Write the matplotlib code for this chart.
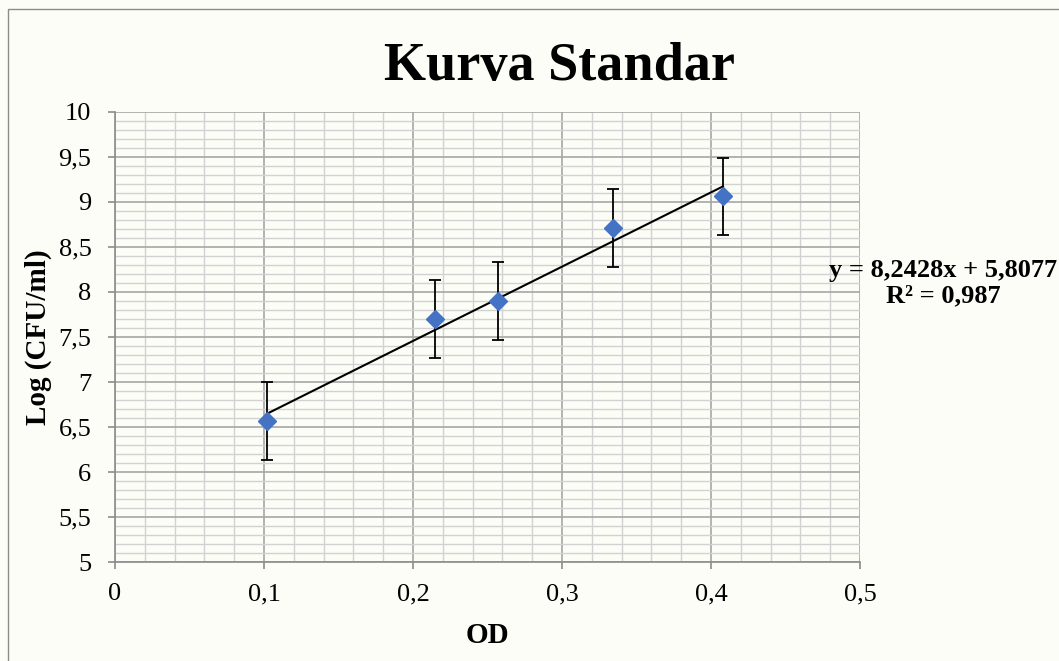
import numpy as np
import matplotlib
matplotlib.use("Agg")
import matplotlib.pyplot as plt
from matplotlib.patches import Rectangle
from matplotlib.ticker import MultipleLocator, FuncFormatter

# Data
od = [0.102, 0.215, 0.257, 0.334, 0.408]
log_cfu = [6.57, 7.70, 7.90, 8.71, 9.06]
err = [0.43, 0.43, 0.43, 0.43, 0.43]

# Linear trendline shown on the chart
slope = 8.2428
intercept = 5.8077
r2 = 0.987

plt.rcParams['font.family'] = ['Liberation Serif', 'DejaVu Serif']

BG = '#fdfdf7'

fig = plt.figure(figsize=(10.59, 6.61), dpi=100, facecolor=BG)
ax = fig.add_axes([115 / 1059, 1 - 562.3 / 661, 745 / 1059, 450.6 / 661])
ax.set_facecolor(BG)

# chart area border (Excel style)
fig.patches.append(Rectangle((8 / 1059, -0.1), 1.2, 1 - 9 / 661 + 0.1,
                             transform=fig.transFigure, fill=False,
                             edgecolor='#8c8c8c', lw=1.0))

ax.set_xlim(0, 0.5)
ax.set_ylim(5, 10)
ax.xaxis.set_major_locator(MultipleLocator(0.1))
ax.xaxis.set_minor_locator(MultipleLocator(0.02))
ax.yaxis.set_major_locator(MultipleLocator(0.5))
ax.yaxis.set_minor_locator(MultipleLocator(0.1))

comma = FuncFormatter(lambda v, p: f"{v:g}".replace('.', ','))
ax.xaxis.set_major_formatter(comma)
ax.yaxis.set_major_formatter(comma)

ax.grid(which='major', color='#a6a6a6', lw=1.2)
ax.grid(which='minor', color='#d2d2d2', lw=1.0)
ax.set_axisbelow(True)

for side in ['top', 'right']:
    ax.spines[side].set_visible(False)
for side in ['left', 'bottom']:
    ax.spines[side].set_color('#8c8c8c')
    ax.spines[side].set_linewidth(1.2)

ax.tick_params(which='major', direction='out', length=5, width=1.2,
               color='#8c8c8c', labelsize=19)
ax.tick_params(axis='y', pad=12)
ax.tick_params(axis='x', pad=10)
ax.tick_params(which='minor', length=0)

# trendline
xt = np.array([od[0], od[-1]])
ax.plot(xt, slope * xt + intercept, color='black', lw=1.5, zorder=3)

ax.errorbar(od, log_cfu, yerr=err, fmt='none', ecolor='black',
            elinewidth=1.3, capsize=4.3, capthick=1.3, zorder=4)
ax.plot(od, log_cfu, 'D', color='#4472c4', ms=9.5, zorder=5)

fig.text(560 / 1059, 1 - 67 / 661, 'Kurva Standar', ha='center', va='center',
         fontsize=39, fontweight='bold')
ax.set_xlabel('OD', fontsize=21, fontweight='bold', labelpad=12)
ax.set_ylabel('Log (CFU/ml)', fontsize=21, fontweight='bold', labelpad=5)

eq = f"y = {slope:.4f}x + {intercept:.4f}".replace('.', ',')
r2_txt = f"R² = {r2:.3f}".replace('.', ',')
fig.text(943 / 1059, 1 - 283 / 661, eq + "\n" + r2_txt, ha='center', va='center',
         multialignment='center', fontsize=19, fontweight='bold', linespacing=1.1)

fig.savefig('out.png', dpi=100, facecolor=BG)
